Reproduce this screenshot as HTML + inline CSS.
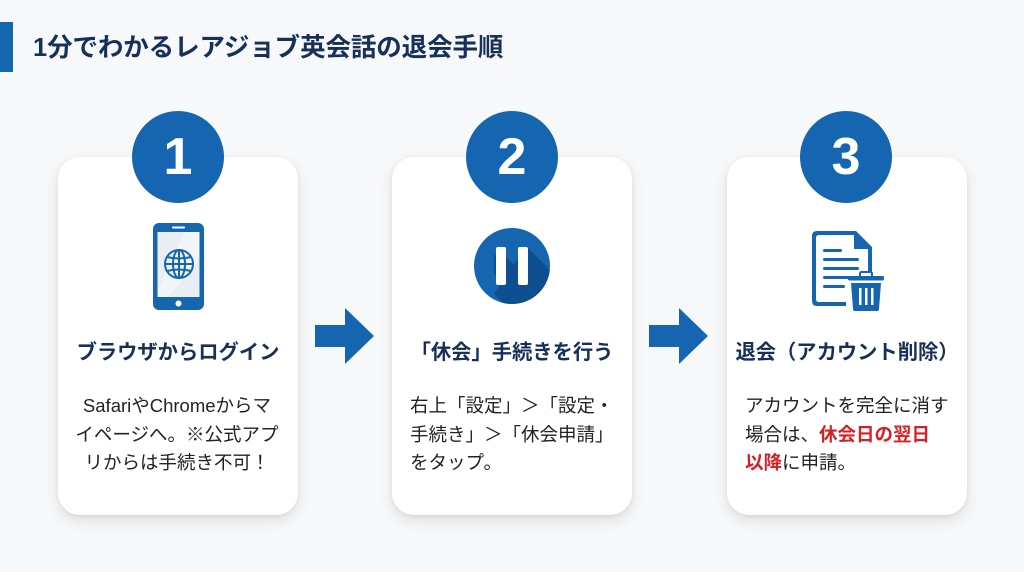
<!DOCTYPE html>
<html><head><meta charset="utf-8">
<style>
html,body{margin:0;padding:0;}
body{width:1024px;height:572px;overflow:hidden;background:#f7f8fa;position:relative;font-family:"Liberation Sans","Noto Sans CJK JP",sans-serif;}
.bar{position:absolute;left:0;top:22px;width:13px;height:50px;background:#1565b0;}
.title{position:absolute;left:33px;top:32px;font-size:25.5px;font-weight:700;color:#17305a;line-height:32px;white-space:nowrap;letter-spacing:-0.1px;}
.card{position:absolute;top:157px;width:240px;height:358px;background:#fff;border-radius:22px;box-shadow:0 6px 14px rgba(0,0,0,0.10),0 1px 4px rgba(0,0,0,0.06);}
.num{position:absolute;width:92px;height:92px;border-radius:50%;background:#1565b0;color:#fff;font-weight:700;font-size:52px;line-height:92px;text-align:center;font-family:"Liberation Sans",sans-serif;}
.ct{position:absolute;top:339px;font-size:20.3px;font-weight:700;color:#17305a;line-height:28px;white-space:nowrap;text-align:center;}
.body{position:absolute;top:392px;font-size:18.5px;color:#222;line-height:28.5px;white-space:nowrap;}
.red{color:#d81f26;font-weight:700;}
svg{position:absolute;left:0;top:0;}
</style></head><body>
<div class="bar"></div>
<div class="title">1分でわかるレアジョブ英会話の退会手順</div>

<div class="card" style="left:58px;"></div>
<div class="card" style="left:392px;"></div>
<div class="card" style="left:727px;"></div>

<div class="num" style="left:132px;top:111px;">1</div>
<div class="num" style="left:466px;top:111px;">2</div>
<div class="num" style="left:800px;top:111px;">3</div>

<svg width="1024" height="572" viewBox="0 0 1024 572">
  <defs>
    <clipPath id="pc"><circle cx="512" cy="266" r="38"/></clipPath>
  </defs>
  <!-- arrows -->
  <polygon points="315,325 345,325 345,308 374,336 345,364 345,347 315,347" fill="#1565b0"/>
  <polygon points="649,325 679,325 679,308 708,336 679,364 679,347 649,347" fill="#1565b0"/>

  <!-- phone -->
  <rect x="153" y="223" width="51" height="87" rx="6" fill="#1565b0"/>
  <rect x="157.5" y="232" width="42" height="65" fill="#e9eef4"/>
  <polygon points="185,232 199.5,232 199.5,260 168,297 157.5,297 157.5,290" fill="#f7f9fb" opacity="0.7"/>
  <rect x="172" y="226.5" width="13" height="2" rx="1" fill="#fff"/>
  <circle cx="178.5" cy="303.5" r="3" fill="#fff"/>
  <g fill="none" stroke="#1565b0" stroke-width="2">
    <circle cx="179" cy="264" r="14"/>
    <ellipse cx="179" cy="264" rx="6" ry="14"/>
    <line x1="179" y1="250" x2="179" y2="278"/>
    <line x1="165" y1="264" x2="193" y2="264"/>
    <path d="M167,257 Q179,260 191,257"/>
    <path d="M167,271 Q179,268 191,271"/>
  </g>

  <!-- pause icon -->
  <circle cx="512" cy="266" r="38" fill="#1565b0"/>
  <g clip-path="url(#pc)">
    <polygon points="512,266 528,248 560,280 560,320 520,320 494,294" fill="#0d4f91"/>
    <polygon points="504,255 530,281 530,300 520,300 494,274 494,255" fill="#0d4f91"/>
  </g>
  <rect x="496" y="247" width="10" height="38" rx="2" fill="#fff"/>
  <rect x="518" y="247" width="10" height="38" rx="2" fill="#fff"/>

  <!-- document + trash -->
  <path d="M819,231 L856,231 L872,247 L872,272 L868,272 L868,249 L854,249 L854,235 L819,235 Q816,235 816,238 L816,299 Q816,302 819,302 L846,302 L846,306 L817,306 Q812,306 812,301 L812,236 Q812,231 817,231 Z" fill="#1565b0"/>
  <polygon points="857,233 870,246 857,246" fill="#1565b0"/>
  <g fill="#1565b0">
    <rect x="823" y="249" width="19" height="3" rx="1.5"/>
    <rect x="823" y="258" width="36" height="3" rx="1.5"/>
    <rect x="823" y="267" width="36" height="3" rx="1.5"/>
    <rect x="823" y="276" width="30" height="3" rx="1.5"/>
    <rect x="823" y="285" width="22" height="3" rx="1.5"/>
  </g>
  <rect x="860" y="272" width="12" height="5" rx="1.5" fill="none" stroke="#1565b0" stroke-width="2"/>
  <rect x="848" y="276" width="36" height="4.5" rx="1.5" fill="#1565b0"/>
  <path d="M851,283 L881,283 L879,309 Q879,311 877,311 L855,311 Q853,311 853,309 Z" fill="#1565b0"/>
  <g fill="#fff">
    <rect x="859" y="288" width="2.5" height="17"/>
    <rect x="865" y="288" width="2.5" height="17"/>
    <rect x="871" y="288" width="2.5" height="17"/>
  </g>
</svg>

<div class="ct" style="left:58px;width:240px;">ブラウザからログイン</div>
<div class="ct" style="left:392px;width:240px;">「休会」手続きを行う</div>
<div class="ct" style="left:727px;width:240px;">退会（アカウント削除）</div>

<div class="body" style="left:58px;width:238px;text-align:center;">SafariやChromeからマ<br>イページへ。※公式アプ<br>リからは手続き不可！</div>
<div class="body" style="left:410px;">右上「設定」＞「設定・<br>手続き」＞「休会申請」<br>をタップ。</div>
<div class="body" style="left:745px;">アカウントを完全に消す<br>場合は、<span class="red">休会日の翌日</span><br><span class="red">以降</span>に申請。</div>
</body></html>
